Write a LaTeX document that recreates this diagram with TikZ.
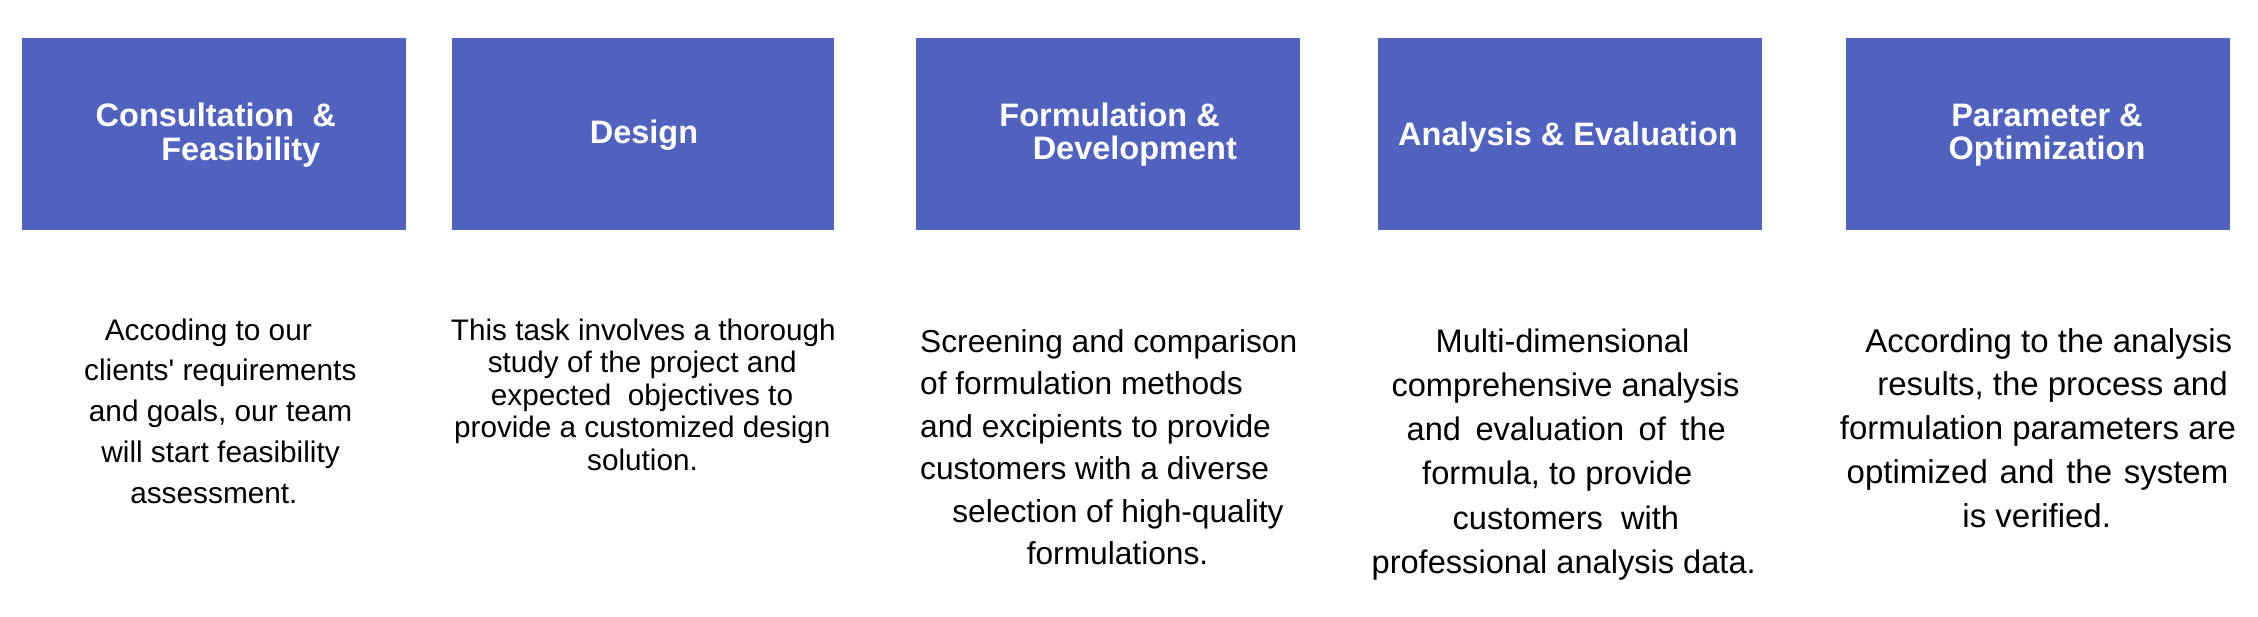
\documentclass[tikz,border=0pt]{standalone}
\usepackage{fontspec}
\newfontfamily\arialf{Liberation Sans}
\definecolor{boxblue}{RGB}{80,98,190}
\begin{document}
\begin{tikzpicture}[x=1pt,y=-1pt,
  stagebox/.style={rectangle,fill=boxblue,draw=none,inner sep=0pt,minimum height=192pt},
  ttl/.style={text=white,font=\arialf\bfseries\fontsize{32.5}{39}\selectfont,anchor=base,inner sep=0pt},
  txa/.style={text=black,font=\arialf\fontsize{29.8}{36}\selectfont,anchor=base,inner sep=0pt},
  txb/.style={text=black,font=\arialf\fontsize{29.7}{36}\selectfont,anchor=base,inner sep=0pt},
  txc/.style={text=black,font=\arialf\fontsize{31.7}{38}\selectfont,anchor=base,inner sep=0pt},
  txd/.style={text=black,font=\arialf\fontsize{32.6}{39}\selectfont,anchor=base,inner sep=0pt},
  txe/.style={text=black,font=\arialf\fontsize{33}{40}\selectfont,anchor=base,inner sep=0pt}]
\fill[white] (0,0) rectangle (2258,616);
\path[use as bounding box] (0,0) rectangle (2258,616);

% stage boxes
\node[stagebox,minimum width=384pt]   (b1) at (213.7,134) {};
\node[stagebox,minimum width=382.2pt] (b2) at (642.9,134) {};
\node[stagebox,minimum width=384pt]   (b3) at (1108,134) {};
\node[stagebox,minimum width=383.5pt] (b4) at (1570,134) {};
\node[stagebox,minimum width=384pt]   (b5) at (2038,134) {};

% titles
\node[ttl] (t1a) at (215.8,126.7) {Consultation~~\&};
\node[ttl] (t1b) at (240.8,160) {Feasibility};
\node[ttl] (t2)  at (644,143.4) {Design};
\node[ttl] (t3a) at (1109.6,126.5) {Formulation \&};
\node[ttl] (t3b) at (1134.8,159.1) {Development};
\node[ttl] (t4)  at (1568,145) {Analysis \& Evaluation};
\node[ttl] (t5a) at (2047,126.5) {Parameter \&};
\node[ttl] (t5b) at (2047,159) {Optimization};

% block 1
\node[txa] (d1a) at (208.3,340) {Accoding to our};
\node[txa] (d1b) at (220.3,380.8) {clients' requirements};
\node[txa] (d1c) at (220.6,421.6) {and goals, our team};
\node[txa] (d1d) at (220.6,462.4) {will start feasibility};
\node[txa] (d1e) at (213.9,503.2) {assessment.};

% block 2
\node[txb] (d2a) at (643.3,340) {This task involves a thorough};
\node[txb] (d2b) at (642.2,372.5) {study of the project and};
\node[txb] (d2c) at (642,405) {expected~~objectives to};
\node[txb] (d2d) at (642.3,437.5) {provide a customized design};
\node[txb] (d2e) at (642.5,470) {solution.};

% block 3
\node[txc,anchor=base west] (d3a) at (920,352) {Screening and comparison};
\node[txc,anchor=base west] (d3b) at (920,394.5) {of formulation methods};
\node[txc,anchor=base west] (d3c) at (920,437) {and excipients to provide};
\node[txc,anchor=base west] (d3d) at (920,479.5) {customers with a diverse};
\node[txc] (d3e) at (1118,522) {selection of high-quality};
\node[txc] (d3f) at (1117.5,564.5) {formulations.};

% block 4
\node[txd] (d4a) at (1562.5,352) {Multi-dimensional};
\node[txd] (d4b) at (1565.5,396.3) {comprehensive analysis};
\node[txd] (d4c) at (1566.2,440.6) {\makebox[319pt][s]{and evaluation of the}};
\node[txd] (d4d) at (1557.2,484.9) {formula, to provide};
\node[txd] (d4e) at (1565.8,529.2) {customers~~with};
\node[txd] (d4f) at (1563.7,573.5) {professional analysis data.};

% block 5
\node[txe] (d5a) at (2048.7,352) {According to the analysis};
\node[txe] (d5b) at (2052.5,395.8) {results, the process and};
\node[txe] (d5c) at (2038,439.6) {formulation parameters are};
\node[txe] (d5d) at (2037.5,483.4) {\makebox[381.7pt][s]{optimized and the system}};
\node[txe] (d5e) at (2036.7,527.2) {is verified.};
\end{tikzpicture}
\end{document}
